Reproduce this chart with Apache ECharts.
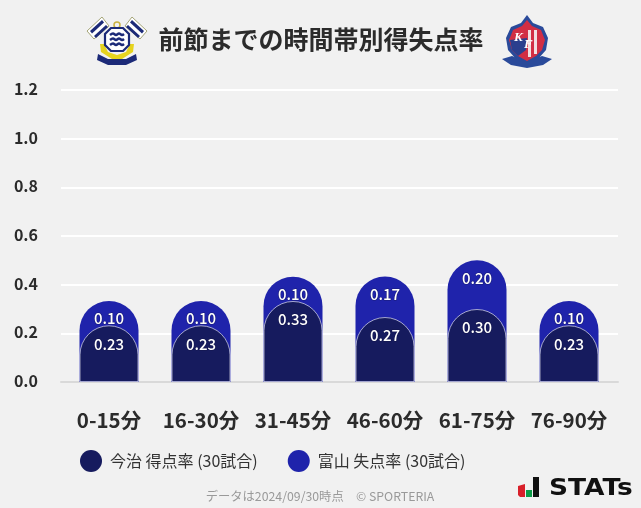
<!DOCTYPE html>
<html>
<head>
<meta charset="utf-8">
<style>
  html, body { margin: 0; padding: 0; background: #f1f1f1; }
  #chart { width: 641px; height: 508px; }
</style>
<script src="https://cdn.jsdelivr.net/npm/echarts@6/dist/echarts.min.js"></script>
</head>
<body>
<div id="chart"></div>
<script>
const categories = ['0-15分', '16-30分', '31-45分', '46-60分', '61-75分', '76-90分'];
const scored = [0.233, 0.233, 0.333, 0.267, 0.30, 0.233];
const conceded = [0.10, 0.10, 0.10, 0.167, 0.20, 0.10];
const yTicks = [0, 0.2, 0.4, 0.6, 0.8, 1.0, 1.2];
const scoredName = '今治 得点率 (30試合)';
const concededName = '富山 失点率 (30試合)';

const FONT = '"Noto Sans CJK JP", "Noto Sans", sans-serif';
const NAVY = '#161b5e';
const BLUE = '#1f23ab';
const LOGO_NAVY = '#1c2a78';

// 青い棒は積み上げの高さで描き、濃紺の棒を手前に重ねる
const stackedTop = conceded.map((v, i) => +(v + scored[i]).toFixed(3));

const barLabel = (values, dist) => ({
    show: true,
    position: 'insideTop',
    distance: dist,
    color: '#fff',
    fontFamily: FONT,
    fontSize: 15,
    fontWeight: 500,
    textBorderColor: 'rgba(20,20,60,0.5)',
    textBorderWidth: 1,
    formatter: p => values[p.dataIndex].toFixed(2)
});

// エンブレムは画像が無いので簡単な図形で近似
const poly = (points, fill, extra) => ({
    type: 'polygon',
    shape: { points: points },
    style: Object.assign({ fill: fill }, extra || {})
});
const wave = y => ({
    type: 'polyline',
    shape: { points: [[110, y], [113, y - 1.5], [116, y], [119, y - 1.5], [122, y], [124, y - 1]], smooth: 0.4 },
    style: { stroke: LOGO_NAVY, lineWidth: 2.4, fill: 'none' }
});

const leftLogo = [
    poly([[87, 31], [102, 17], [109, 26], [94, 39]], '#fff', { stroke: '#a5a578', lineWidth: 1 }),
    poly([[90, 31], [102, 20], [104, 22.5], [92, 33.5]], LOGO_NAVY),
    poly([[94, 36], [106, 25], [108, 27], [96, 38]], LOGO_NAVY),
    poly([[147, 31], [132, 17], [125, 26], [140, 39]], '#fff', { stroke: '#a5a578', lineWidth: 1 }),
    poly([[144, 31], [132, 20], [130, 22.5], [142, 33.5]], LOGO_NAVY),
    poly([[140, 36], [128, 25], [126, 27], [138, 38]], LOGO_NAVY),
    { type: 'circle', shape: { cx: 117, cy: 25, r: 3 }, style: { fill: 'none', stroke: '#c9b040', lineWidth: 1.5 } },
    poly([[100, 44], [104, 44], [108, 52], [117, 55], [126, 52], [130, 44], [134, 44], [133, 52], [122, 59], [112, 59], [101, 52]], '#e6d31e'),
    poly([[111, 28], [123, 28], [129, 34], [129, 45], [123, 51], [111, 51], [105, 45], [105, 34]], '#fff', { stroke: LOGO_NAVY, lineWidth: 2.2 }),
    wave(35),
    wave(40),
    wave(45),
    poly([[98, 54], [108, 59], [126, 59], [136, 54], [137, 60], [126, 65], [108, 65], [97, 60]], LOGO_NAVY)
];

const rightLogo = [
    poly([[527, 15], [533, 23], [543, 27], [548, 38], [546, 50], [538, 59], [527, 64], [516, 59], [508, 50], [506, 38], [511, 27], [521, 23]], '#2a4a9a'),
    poly([[527, 20], [532, 26], [541, 30], [545, 40], [542, 50], [536, 56], [527, 61], [518, 56], [512, 50], [509, 40], [513, 30], [522, 26]], '#d22e44'),
    { type: 'rect', shape: { x: 528, y: 30, width: 3, height: 27 }, style: { fill: '#f1dfe2' } },
    { type: 'rect', shape: { x: 534, y: 30, width: 3, height: 24 }, style: { fill: '#f1dfe2' } },
    poly([[510, 40], [527, 38], [526, 50], [518, 56], [512, 50]], '#2a3f8e'),
    { type: 'text', x: 514, y: 31, style: { text: 'K', fill: '#fff', font: 'italic bold 13px "Liberation Serif"' } },
    { type: 'text', x: 524, y: 38, style: { text: 'F', fill: '#fff', font: 'italic bold 13px "Liberation Serif"' } },
    poly([[502, 59], [512, 56], [527, 62], [542, 56], [552, 59], [543, 65], [527, 68], [511, 65]], '#2a4a9a')
];

const statsLogo = [
    poly([[518, 486], [525, 484], [525, 497], [520, 497], [518, 495]], '#d8202a'),
    { type: 'rect', shape: { x: 526, y: 490, width: 6, height: 7 }, style: { fill: '#0c9c48' } },
    { type: 'rect', shape: { x: 533, y: 477, width: 6, height: 20 }, style: { fill: '#111' } },
    { type: 'text', x: 549, y: 478, scaleX: 1.15, style: { text: 'STATs', fill: '#111', font: 'bold 23px "DejaVu Sans"' } }
];

const chart = echarts.init(document.getElementById('chart'));

chart.setOption({
    backgroundColor: '#f1f1f1',
    animation: false,
    textStyle: { fontFamily: FONT },
    title: {
        text: '前節までの時間帯別得失点率',
        left: 316,
        top: 22,
        textAlign: 'center',
        textStyle: { fontFamily: FONT, fontSize: 25, fontWeight: 700, color: '#2b2b2b' }
    },
    legend: {
        left: 75,
        top: 445,
        icon: 'circle',
        itemWidth: 22,
        itemHeight: 22,
        itemGap: 30,
        itemStyle: { borderWidth: 0 },
        data: [scoredName, concededName],
        textStyle: { fontFamily: FONT, fontSize: 16, color: '#333', padding: [0, 0, 0, 3] }
    },
    // 目盛線は棒の領域より少し広いので、グリッドを2枚に分ける
    grid: [
        { left: 61, right: 23, top: 90, bottom: 126 },
        { left: 63, right: 26, top: 90, bottom: 126 }
    ],
    xAxis: [
        {
            type: 'category',
            gridIndex: 0,
            data: categories,
            axisTick: { show: false },
            axisLabel: { show: false },
            axisLine: { lineStyle: { color: '#d9d9d9', width: 2 } }
        },
        {
            type: 'category',
            gridIndex: 1,
            data: categories,
            axisTick: { show: false },
            axisLine: { show: false },
            axisLabel: { interval: 0, margin: 28, color: '#2b2b2b', fontFamily: FONT, fontSize: 20.5, fontWeight: 700 }
        }
    ],
    yAxis: [
        {
            type: 'value',
            gridIndex: 0,
            min: yTicks[0],
            max: yTicks[yTicks.length - 1],
            interval: 0.2,
            axisLine: { show: false },
            axisTick: { show: false },
            splitLine: { lineStyle: { color: '#fff', width: 2 } },
            axisLabel: {
                margin: 23,
                verticalAlign: 'bottom',
                lineHeight: 2,
                color: '#2b2b2b',
                fontFamily: FONT,
                fontSize: 16,
                fontWeight: 700,
                formatter: v => v.toFixed(1)
            }
        },
        {
            type: 'value',
            gridIndex: 1,
            min: yTicks[0],
            max: yTicks[yTicks.length - 1],
            interval: 0.2,
            axisLine: { show: false },
            axisTick: { show: false },
            axisLabel: { show: false },
            splitLine: { show: false }
        }
    ],
    series: [
        {
            name: concededName,
            type: 'bar',
            xAxisIndex: 1,
            yAxisIndex: 1,
            data: stackedTop,
            barWidth: 59,
            barGap: '-100%',
            itemStyle: { color: BLUE, borderRadius: [30, 30, 0, 0] },
            label: barLabel(conceded, 10)
        },
        {
            name: scoredName,
            type: 'bar',
            xAxisIndex: 1,
            yAxisIndex: 1,
            data: scored,
            barWidth: 59,
            barGap: '-100%',
            itemStyle: {
                color: NAVY,
                borderRadius: [30, 30, 0, 0],
                borderColor: 'rgba(255,255,255,0.6)',
                borderWidth: 1
            },
            label: barLabel(scored, 11)
        }
    ],
    color: [BLUE, NAVY],
    graphic: [
        ...leftLogo,
        ...rightLogo,
        ...statsLogo,
        {
            type: 'text',
            x: 320,
            y: 490,
            style: {
                text: 'データは2024/09/30時点　© SPORTERIA',
                fill: '#999',
                font: '12.3px ' + FONT,
                align: 'center'
            }
        }
    ]
});
</script>
</body>
</html>
